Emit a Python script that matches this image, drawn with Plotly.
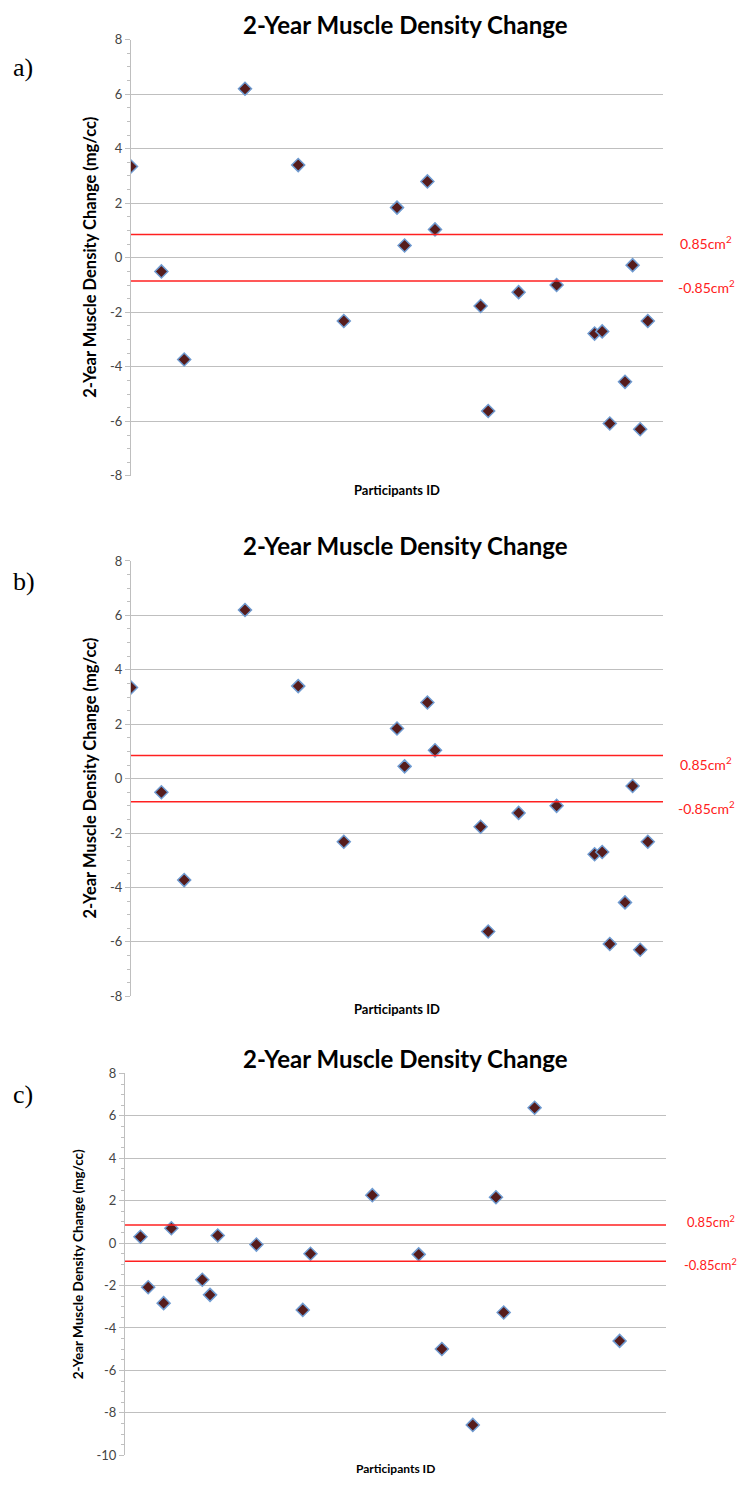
import plotly.graph_objects as go

W, H = 738, 1486

# ---------------- data ----------------
ids_ab = [0, 4, 7, 15, 22, 28, 35, 36, 39, 40, 46, 47, 51, 56, 61, 62, 63, 65, 66, 67, 68]
change_ab = [3.35, -0.5, -3.73, 6.2, 3.4, -2.32, 1.84, 0.45, 2.8, 1.04, -1.77, -5.62,
             -1.26, -1.0, -2.78, -2.7, -6.08, -4.55, -0.27, -6.29, -2.32]

ids_c = [2, 3, 5, 6, 10, 11, 12, 17, 23, 24, 32, 38, 41, 45, 48, 49, 53, 64]
change_c = [0.3, -2.08, -2.83, 0.7, -1.73, -2.44, 0.36, -0.07, -3.15, -0.5, 2.26, -0.53,
            -4.99, -8.57, 2.16, -3.27, 6.38, -4.61]

threshold = 0.85
threshold_labels = ["0.85cm<sup>2</sup>", "-0.85cm<sup>2</sup>"]

ticks_ab = [-8, -6, -4, -2, 0, 2, 4, 6, 8]
ticktext_ab = ["-8", "-6", "-4", "-2", "0", "2", "4", "6", "8"]
ticks_c = [-10, -8, -6, -4, -2, 0, 2, 4, 6, 8]
ticktext_c = ["-10", "-8", "-6", "-4", "-2", "0", "2", "4", "6", "8"]

title_text = "2-Year Muscle Density Change"
ytitle_text = "2-Year Muscle Density Change (mg/cc)"
xtitle_text = "Participants ID"
panel_labels = ["a)", "b)", "c)"]

# ---------------- layout helpers ----------------
def px_x(x):
    return x / W

def px_y(y):
    return 1 - y / H

panels = [
    dict(x0=131, x1=663, y0=32, y1=473, ids=ids_ab, vals=change_ab, ticks=ticks_ab,
         ticktext=ticktext_ab, rng=[-8, 8], title_y=17, ytitle_x=90, ytitle_size=16.5,
         xtitle_y=487, xtitle_size=13, lab_y=60, thr_x=[678, 676], thr_dy=[8, 6], thr_size=14),
    dict(x0=131, x1=663, y0=559, y1=999, ids=ids_ab, vals=change_ab, ticks=ticks_ab,
         ticktext=ticktext_ab, rng=[-8, 8], title_y=543, ytitle_x=90, ytitle_size=16.5,
         xtitle_y=1012, xtitle_size=13, lab_y=580, thr_x=[678, 676], thr_dy=[8, 6], thr_size=14),
    dict(x0=125, x1=666, y0=1077, y1=1463, ids=ids_c, vals=change_c, ticks=ticks_c,
         ticktext=ticktext_c, rng=[-10, 8], title_y=1062, ytitle_x=78, ytitle_size=13.5,
         xtitle_y=1476, xtitle_size=12, lab_y=1098, thr_x=[685, 682], thr_dy=[-4, 3], thr_size=13),
]

fig = go.Figure()
grid_col = "#bfbfbf"
tick_col = "#454545"
font_main = "Lato"

annotations = []
for i, p in enumerate(panels, start=1):
    xa = "x" if i == 1 else f"x{i}"
    ya = "y" if i == 1 else f"y{i}"
    fig.add_trace(go.Scatter(
        x=p["ids"], y=p["vals"], mode="markers", xaxis=xa, yaxis=ya,
        marker=dict(symbol="diamond", size=10, color="#561c1c",
                    line=dict(color="#6f9bd1", width=1.5)),
        showlegend=False, hoverinfo="x+y"))
    for t in [threshold, -threshold]:
        fig.add_trace(go.Scatter(
            x=[0, 70], y=[t, t], mode="lines", xaxis=xa, yaxis=ya,
            line=dict(color="#ff2020", width=1.5), showlegend=False, hoverinfo="skip"))

    xkey = "xaxis" if i == 1 else f"xaxis{i}"
    ykey = "yaxis" if i == 1 else f"yaxis{i}"
    fig.update_layout(**{
        xkey: dict(domain=[px_x(p["x0"]), px_x(p["x1"])], range=[0, 70],
                   showticklabels=False, showgrid=False, zeroline=False,
                   showline=False, ticks="", anchor=ya, fixedrange=True),
        ykey: dict(domain=[px_y(p["y1"]), px_y(p["y0"])], range=p["rng"],
                   tickvals=p["ticks"], ticktext=p["ticktext"],
                   showgrid=True, gridcolor=grid_col, gridwidth=1,
                   zeroline=False, showline=True, linecolor=grid_col, linewidth=1,
                   ticks="outside", ticklen=5, tickcolor=grid_col,
                   minor=dict(dtick=0.5, ticks="outside", ticklen=3,
                              tickcolor=grid_col, showgrid=False),
                   tickfont=dict(family=font_main, size=13, color=tick_col),
                   anchor=xa, fixedrange=True),
    })

    xc = px_x((p["x0"] + p["x1"]) / 2)
    annotations.append(dict(
        text=f"<b>{title_text}</b>", x=px_x(405), y=px_y(p["title_y"]),
        xref="paper", yref="paper", showarrow=False, xanchor="center", yanchor="middle",
        font=dict(family=font_main, size=24, color="#000000")))
    annotations.append(dict(
        text=f"<b>{ytitle_text}</b>", x=px_x(p["ytitle_x"]),
        y=px_y((p["y0"] + p["y1"]) / 2), xref="paper", yref="paper", showarrow=False,
        textangle=-90, xanchor="center", yanchor="middle",
        font=dict(family=font_main, size=p["ytitle_size"], color="#000000")))
    annotations.append(dict(
        text=f"<b>{xtitle_text}</b>", x=xc, y=px_y(p["xtitle_y"]),
        xref="paper", yref="paper", showarrow=False, xanchor="center", yanchor="middle",
        font=dict(family=font_main, size=p["xtitle_size"], color="#000000")))
    annotations.append(dict(
        text=panel_labels[i - 1], x=px_x(11), y=px_y(p["lab_y"]),
        xref="paper", yref="paper", showarrow=False, xanchor="left", yanchor="middle",
        font=dict(family="Liberation Serif", size=26, color="#000000")))
    for k, t in enumerate([threshold, -threshold]):
        annotations.append(dict(
            text=threshold_labels[k], x=px_x(p["thr_x"][k]), y=t,
            xref="paper", yref=ya, yshift=-p["thr_dy"][k],
            showarrow=False, xanchor="left", yanchor="middle",
            font=dict(family=font_main, size=p["thr_size"], color="#ff2020")))

fig.update_layout(
    width=W, height=H, margin=dict(l=0, r=0, t=0, b=0),
    paper_bgcolor="white", plot_bgcolor="white",
    annotations=annotations, showlegend=False,
)

fig.write_html("out.html",
               post_script="document.body.style.margin='0';document.body.style.overflow='hidden';")
